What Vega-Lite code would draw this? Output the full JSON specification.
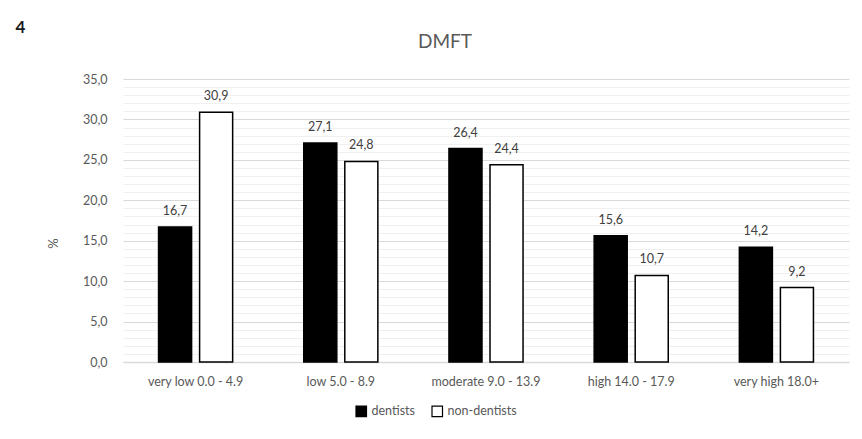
{
  "$schema": "https://vega.github.io/schema/vega-lite/v6.json",
  "width": 726,
  "height": 283,
  "autosize": {"type": "none"},
  "padding": {"left": 123, "top": 79, "right": 13, "bottom": 77},
  "background": "white",
  "config": {
    "locale": {"number": {"decimal": ",", "thousands": ".", "grouping": [3], "currency": ["", " €"]}},
    "font": "Lato",
    "view": {"stroke": null},
    "axis": {"labelColor": "#595959", "titleColor": "#595959", "labelFont": "Lato", "titleFont": "Lato"}
  },
  "title": {"text": "DMFT", "fontSize": 19, "font": "Lato", "fontWeight": "normal", "color": "#595959", "anchor": "middle", "dx": -41, "dy": 38, "frame": "group"},
  "data": {"values": [
    {"category": "very low 0.0 - 4.9", "group": "dentists", "value": 16.7},
    {"category": "very low 0.0 - 4.9", "group": "non-dentists", "value": 30.9},
    {"category": "low 5.0 - 8.9", "group": "dentists", "value": 27.1},
    {"category": "low 5.0 - 8.9", "group": "non-dentists", "value": 24.8},
    {"category": "moderate 9.0 - 13.9", "group": "dentists", "value": 26.4},
    {"category": "moderate 9.0 - 13.9", "group": "non-dentists", "value": 24.4},
    {"category": "high 14.0 - 17.9", "group": "dentists", "value": 15.6},
    {"category": "high 14.0 - 17.9", "group": "non-dentists", "value": 10.7},
    {"category": "very high 18.0+", "group": "dentists", "value": 14.2},
    {"category": "very high 18.0+", "group": "non-dentists", "value": 9.2}
  ]},
  "encoding": {
    "x": {"field": "category", "type": "nominal", "sort": null,
      "scale": {"paddingInner": 0, "paddingOuter": 0}},
    "xOffset": {"field": "group", "type": "nominal", "sort": ["dentists", "non-dentists"],
      "scale": {"paddingInner": 0.195, "paddingOuter": 0.866}},
    "y": {"field": "value", "type": "quantitative", "scale": {"domain": [0, 35], "nice": false}}
  },
  "layer": [
    {
      "mark": {"type": "bar", "stroke": "black", "strokeWidth": 1.5},
      "encoding": {
        "x": {"field": "category", "type": "nominal", "sort": null,
          "scale": {"paddingInner": 0, "paddingOuter": 0},
          "axis": {"title": null, "labelAngle": 0, "labelFontSize": 12.5, "labelPadding": 13, "ticks": false, "domain": true, "domainColor": "#d9d9d9", "domainWidth": 1.5, "grid": false}},
        "y": {"field": "value", "type": "quantitative", "scale": {"domain": [0, 35], "nice": false},
          "axis": {"orient": "left", "title": "%", "titleFontSize": 13, "titleFontWeight": "normal", "titleX": -63, "titleY": 164,
            "values": [0, 5, 10, 15, 20, 25, 30, 35], "format": ".1f", "labelFontSize": 12.5, "labelPadding": 16,
            "ticks": false, "domain": false, "grid": true, "gridColor": "#d9d9d9", "gridWidth": 1.2}},
        "fill": {"field": "group", "type": "nominal", "sort": ["dentists", "non-dentists"],
          "scale": {"domain": ["dentists", "non-dentists"], "range": ["black", "white"]},
          "legend": {"title": null, "orient": "none", "legendX": 232, "legendY": 326, "direction": "horizontal",
            "symbolType": "square", "symbolSize": 110, "symbolStrokeColor": "black", "symbolStrokeWidth": 1.2,
            "labelFontSize": 12.5, "labelColor": "#595959", "labelFont": "Lato", "columnPadding": 14, "labelOffset": 4}}
      }
    },
    {
      "mark": {"type": "text", "baseline": "bottom", "dy": -9, "fontSize": 12.5, "color": "#404040"},
      "encoding": {
        "x": {"field": "category", "type": "nominal", "sort": null,
          "scale": {"paddingInner": 0, "paddingOuter": 0},
          "axis": {"orient": "top", "labels": false, "ticks": false, "domain": false, "grid": false,
            "title": "4", "titleFontSize": 17, "titleFontWeight": "bold", "titleColor": "#1a1a1a", "titleX": -103, "titleY": -52, "titleAlign": "center", "titleBaseline": "middle"}},
        "y": {"field": "value", "type": "quantitative", "scale": {"domain": [0, 35], "nice": false},
          "axis": {"orient": "left", "title": null, "labels": false, "ticks": false, "domain": false,
            "values": [1, 2, 3, 4, 6, 7, 8, 9, 11, 12, 13, 14, 16, 17, 18, 19, 21, 22, 23, 24, 26, 27, 28, 29, 31, 32, 33, 34],
            "grid": true, "gridColor": "#f0f0f0", "gridWidth": 1.2}},
        "text": {"field": "value", "type": "quantitative", "format": ".1f"}
      }
    }
  ],
  "resolve": {"axis": {"x": "independent", "y": "independent"}}
}
